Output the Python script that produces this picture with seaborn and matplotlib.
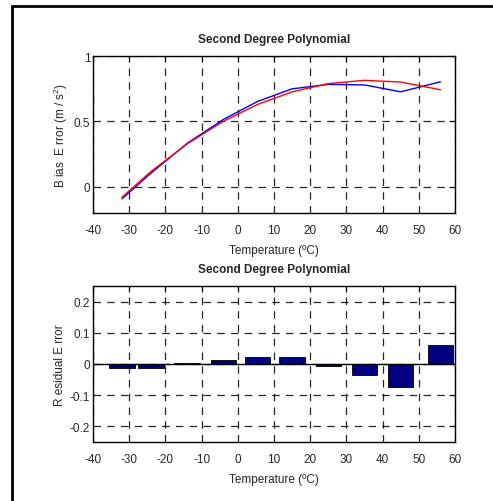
import numpy as np
import pandas as pd
import matplotlib
matplotlib.use("Agg")
import matplotlib.pyplot as plt
import seaborn as sns
from matplotlib.lines import Line2D

# Temperature bins (°C)
temperature = [-32, -24, -14, -4, 5.5, 15, 25, 35, 45, 56]
# Measured bias error (m/s^2)
bias_measured = [-0.092, 0.104, 0.332, 0.515, 0.653, 0.749, 0.783, 0.779, 0.726, 0.803]
# Second degree polynomial fit of the bias error (m/s^2)
bias_fit = [-0.079, 0.117, 0.328, 0.501, 0.630, 0.726, 0.789, 0.814, 0.801, 0.742]
# Residual error of the fit
residual = [-0.013, -0.013, 0.004, 0.014, 0.023, 0.023, -0.006, -0.035, -0.075, 0.061]

x_ticks = [-40, -30, -20, -10, 0, 10, 20, 30, 40, 50, 60]
top_yticks = [0, 0.5, 1]
top_yticklabels = ["0", "0.5", "1"]
bottom_yticks = [-0.2, -0.1, 0, 0.1, 0.2]
bottom_yticklabels = ["-0.2", "-0.1", "0", "0.1", "0.2"]

sns.set_theme(style="white")
plt.rcParams["font.family"] = ["Liberation Sans", "DejaVu Sans"]
plt.rcParams["mathtext.fontset"] = "custom"
plt.rcParams["mathtext.rm"] = "Liberation Sans"

fig = plt.figure(figsize=(4.93, 5.02), dpi=100)

# Outer frame (left and top edges)
fig.add_artist(Line2D([12 / 493, 12 / 493], [0, 1 - 7 / 502], color="black", lw=2,
                      transform=fig.transFigure))
fig.add_artist(Line2D([12 / 493, 1], [1 - 7 / 502, 1 - 7 / 502], color="black", lw=2,
                      transform=fig.transFigure))

ax1 = fig.add_axes([93 / 493, 1 - 214 / 502, 362 / 493, 157 / 502])
ax2 = fig.add_axes([93 / 493, 1 - 443 / 502, 362 / 493, 156 / 502])

df = pd.DataFrame({"T": temperature, "measured": bias_measured, "fit": bias_fit,
                   "residual": residual})

grid_kw = dict(color="black", linestyle=(0, (6, 5)), linewidth=0.9, alpha=0.85)

# Bias error: measured vs polynomial fit
sns.lineplot(data=df, x="T", y="measured", color="blue", lw=1.0, ax=ax1)
sns.lineplot(data=df, x="T", y="fit", color="red", lw=1.0, ax=ax1)
ax1.set_xlim(-40, 60)
ax1.set_ylim(-0.2, 1)
ax1.set_yticks(top_yticks)
ax1.set_yticklabels(top_yticklabels)
ax1.set_ylabel("B ias  E rror (m / s$^2$)", fontsize=8.5, labelpad=3)

# Residual error bars
sns.barplot(data=df, x="T", y="residual", native_scale=True, width=0.875,
            color="#000080", saturation=1, edgecolor="black", linewidth=0.6,
            errorbar=None, ax=ax2, zorder=3)
ax2.axhline(0, color="black", lw=1.0, zorder=4)
ax2.set_xlim(-40, 60)
ax2.set_ylim(-0.25, 0.25)
ax2.set_yticks(bottom_yticks)
ax2.set_yticklabels(bottom_yticklabels)
ax2.set_ylabel("R esidual E rror", fontsize=8.5, labelpad=3)

for ax in (ax1, ax2):
    ax.set_xticks(x_ticks)
    ax.set_xticklabels([str(t) for t in x_ticks])
    ax.set_xlabel("Temperature (ºC)", fontsize=8.5, labelpad=6)
    ax.set_title("Second Degree Polynomial", fontsize=8.5, fontweight="bold", pad=10)
    ax.grid(True, **grid_kw)
    ax.set_axisbelow(True)
    ax.tick_params(direction="in", length=4, width=0.8, labelsize=8.5,
                   top=True, right=True, color="black")
    ax.tick_params(axis="x", pad=8)
    ax.tick_params(axis="y", pad=2)
    for s in ax.spines.values():
        s.set_color("black")
        s.set_linewidth(1.0)

fig.savefig("out.png", dpi=100)
